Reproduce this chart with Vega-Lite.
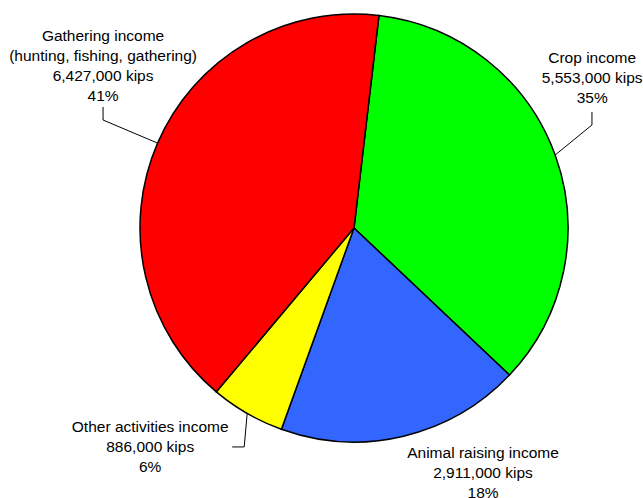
{
  "$schema": "https://vega.github.io/schema/vega-lite/v6.json",
  "autosize": {"type": "none"},
  "width": 578,
  "height": 456,
  "padding": {"left": 65, "top": 0, "right": 0, "bottom": 42},
  "background": "white",
  "config": {"view": {"stroke": null}},
  "data": {
    "values": [
      {"category": "Crop income", "value": 5553000, "order": 1},
      {"category": "Animal raising income", "value": 2911000, "order": 2},
      {"category": "Other activities income", "value": 886000, "order": 3},
      {"category": "Gathering income\n(hunting, fishing, gathering)", "value": 6427000, "order": 4}
    ]
  },
  "transform": [
    {"window": [{"op": "sum", "field": "value", "as": "cum"}], "sort": [{"field": "order"}], "frame": [null, 0]},
    {"joinaggregate": [{"op": "sum", "field": "value", "as": "total"}]},
    {"calculate": "0.1169 + 2*PI*(datum.cum - datum.value/2)/datum.total", "as": "mid"},
    {"calculate": "214*sin(datum.mid)", "as": "ex"},
    {"calculate": "-214*cos(datum.mid)", "as": "ey"},
    {"calculate": "datum.category + '\\n' + format(datum.value, ',') + ' kips\\n' + format(datum.value/datum.total, '.0%')", "as": "label"}
  ],
  "layer": [
    {
      "mark": {"type": "arc", "outerRadius": 214, "stroke": "black", "strokeWidth": 1.5},
      "encoding": {
        "theta": {"field": "value", "type": "quantitative", "stack": true, "scale": {"range": [0.1169, 6.4001]}},
        "order": {"field": "order", "type": "quantitative"},
        "color": {
          "field": "category", "type": "nominal", "legend": null,
          "scale": {
            "domain": ["Crop income", "Animal raising income", "Other activities income", "Gathering income\n(hunting, fishing, gathering)"],
            "range": ["#00FF00", "#3366FF", "#FFFF00", "#FF0000"]
          }
        }
      }
    },
    {
      "transform": [{"filter": "datum.order == 1"}],
      "mark": {"type": "text", "align": "center", "baseline": "middle", "lineBreak": "\n", "lineHeight": 20, "font": "Liberation Sans", "fontSize": 15.5, "color": "black", "dx": 37, "dy": -96.5},
      "encoding": {
        "x": {"field": "ex", "type": "quantitative", "scale": {"domain": [-289, 289], "nice": false, "zero": false}, "axis": null},
        "y": {"field": "ey", "type": "quantitative", "scale": {"domain": [-228, 228], "nice": false, "zero": false, "reverse": true}, "axis": null},
        "text": {"field": "label"}
      }
    },
    {
      "transform": [{"filter": "datum.order == 2"}],
      "mark": {"type": "text", "align": "center", "baseline": "middle", "lineBreak": "\n", "lineHeight": 20, "font": "Liberation Sans", "fontSize": 15.5, "color": "black", "dx": 79.5, "dy": 17},
      "encoding": {
        "x": {"field": "ex", "type": "quantitative"},
        "y": {"field": "ey", "type": "quantitative"},
        "text": {"field": "label"}
      }
    },
    {
      "transform": [{"filter": "datum.order == 3"}],
      "mark": {"type": "text", "align": "center", "baseline": "middle", "lineBreak": "\n", "lineHeight": 20, "font": "Liberation Sans", "fontSize": 15.5, "color": "black", "dx": -97, "dy": 13.5},
      "encoding": {
        "x": {"field": "ex", "type": "quantitative"},
        "y": {"field": "ey", "type": "quantitative"},
        "text": {"field": "label"}
      }
    },
    {
      "transform": [{"filter": "datum.order == 4"}],
      "mark": {"type": "text", "align": "center", "baseline": "middle", "lineBreak": "\n", "lineHeight": 20, "font": "Liberation Sans", "fontSize": 15.5, "color": "black", "dx": -54.5, "dy": -107.6},
      "encoding": {
        "x": {"field": "ex", "type": "quantitative"},
        "y": {"field": "ey", "type": "quantitative"},
        "text": {"field": "label"}
      }
    },
    {
      "transform": [{"filter": "datum.order == 1"}],
      "mark": {"type": "rule", "color": "black", "strokeWidth": 1, "x2Offset": 36.8, "y2Offset": -30},
      "encoding": {
        "x": {"field": "ex", "type": "quantitative"},
        "y": {"field": "ey", "type": "quantitative"},
        "x2": {"field": "ex"},
        "y2": {"field": "ey"}
      }
    },
    {
      "transform": [{"filter": "datum.order == 1"}],
      "mark": {"type": "rule", "color": "black", "strokeWidth": 1, "xOffset": 36.8, "yOffset": -30, "x2Offset": 36.8, "y2Offset": -43},
      "encoding": {
        "x": {"field": "ex", "type": "quantitative"},
        "y": {"field": "ey", "type": "quantitative"},
        "x2": {"field": "ex"},
        "y2": {"field": "ey"}
      }
    },
    {
      "transform": [{"filter": "datum.order == 4"}],
      "mark": {"type": "rule", "color": "black", "strokeWidth": 1, "x2Offset": -54.5, "y2Offset": -23.1},
      "encoding": {
        "x": {"field": "ex", "type": "quantitative"},
        "y": {"field": "ey", "type": "quantitative"},
        "x2": {"field": "ex"},
        "y2": {"field": "ey"}
      }
    },
    {
      "transform": [{"filter": "datum.order == 4"}],
      "mark": {"type": "rule", "color": "black", "strokeWidth": 1, "xOffset": -54.5, "yOffset": -23.1, "x2Offset": -54.5, "y2Offset": -36.1},
      "encoding": {
        "x": {"field": "ex", "type": "quantitative"},
        "y": {"field": "ey", "type": "quantitative"},
        "x2": {"field": "ex"},
        "y2": {"field": "ey"}
      }
    },
    {
      "transform": [{"filter": "datum.order == 3"}],
      "mark": {"type": "rule", "color": "black", "strokeWidth": 1, "x2Offset": -3, "y2Offset": 33.5},
      "encoding": {
        "x": {"field": "ex", "type": "quantitative"},
        "y": {"field": "ey", "type": "quantitative"},
        "x2": {"field": "ex"},
        "y2": {"field": "ey"}
      }
    },
    {
      "transform": [{"filter": "datum.order == 3"}],
      "mark": {"type": "rule", "color": "black", "strokeWidth": 1, "xOffset": -3, "yOffset": 33.5, "x2Offset": -15, "y2Offset": 33.5},
      "encoding": {
        "x": {"field": "ex", "type": "quantitative"},
        "y": {"field": "ey", "type": "quantitative"},
        "x2": {"field": "ex"},
        "y2": {"field": "ey"}
      }
    }
  ]
}
